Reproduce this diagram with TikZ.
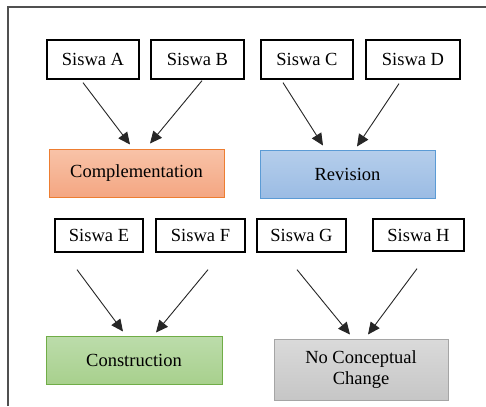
\documentclass[tikz,border=0pt]{standalone}
\usepackage{fontspec}
\setmainfont{Liberation Serif}
\newfontfamily\boxfont{Liberation Serif}
\usetikzlibrary{arrows.meta}

\definecolor{frameline}{HTML}{505050}
\definecolor{orangeline}{HTML}{ED7D31}
\definecolor{orangetop}{HTML}{F8C3A8}
\definecolor{orangebot}{HTML}{F4A682}
\definecolor{blueline}{HTML}{5B9BD5}
\definecolor{bluetop}{HTML}{B5CEEB}
\definecolor{bluebot}{HTML}{9BBCE4}
\definecolor{greenline}{HTML}{70AD47}
\definecolor{greentop}{HTML}{BCDCAB}
\definecolor{greenbot}{HTML}{A8D08D}
\definecolor{grayline}{HTML}{A5A5A5}
\definecolor{graytop}{HTML}{DADADA}
\definecolor{graybot}{HTML}{C6C6C6}

\tikzset{
  student/.style={draw=black, line width=1.3pt, fill=white, inner sep=0pt,
    font=\boxfont\fontsize{18.5}{21}\selectfont},
  outcome/.style={line width=1pt, inner sep=0pt, align=center,
    minimum width=175pt, minimum height=48pt,
    font=\boxfont\fontsize{18.5}{21}\selectfont},
  arr/.style={draw=black!85, line width=0.9pt,
    -{Triangle[length=12pt,width=11pt]}},
}

\begin{document}
\begin{tikzpicture}[x=1pt,y=-1pt]
  \useasboundingbox (0,0) rectangle (486,406);
  \fill[white] (0,0) rectangle (486,406);

  % outer frame (top and left edges)
  \draw[frameline, line width=1.6pt] (8,406) -- (8,7) -- (486,7);

  % first group of students
  \node[student, minimum width=92pt, minimum height=39pt] (sa) at (93,59.5) {Siswa A};
  \node[student, minimum width=93pt, minimum height=39pt] (sb) at (197.5,59.5) {Siswa B};
  \node[student, minimum width=92pt, minimum height=39pt] (sc) at (307,59.5) {Siswa C};
  \node[student, minimum width=94pt, minimum height=39pt] (sd) at (413,59.5) {Siswa D};

  % first outcomes
  \node[outcome, draw=orangeline, top color=orangetop, bottom color=orangebot]
    (comp) at (136.5,173) {Complementation};
  \node[outcome, draw=blueline, top color=bluetop, bottom color=bluebot]
    (rev) at (347.5,174) {Revision};

  % second group of students
  \node[student, minimum width=88pt, minimum height=33pt] (se) at (99,235.5) {Siswa E};
  \node[student, minimum width=89pt, minimum height=33pt] (sf) at (200.5,235.5) {Siswa F};
  \node[student, minimum width=89pt, minimum height=33pt] (sg) at (301.5,235.5) {Siswa G};
  \node[student, minimum width=91pt, minimum height=32pt] (sh) at (418.5,235) {Siswa H};

  % second outcomes
  \node[outcome, draw=greenline, top color=greentop, bottom color=greenbot,
    minimum width=176pt] (cons) at (134,360) {Construction};
  \node[outcome, draw=grayline, top color=graytop, bottom color=graybot,
    minimum width=174pt, minimum height=61pt] (ncc) at (361,369.5)
    {No Conceptual\\Change};

  % connectors
  \draw[arr] ([shift={(-10,3)}]sa.south) -- ([shift={(-6.5,-4)}]comp.north);
  \draw[arr] ([shift={(4.5,1)}]sb.south) -- ([shift={(13.5,-5)}]comp.north);
  \draw[arr] ([shift={(-24,3)}]sc.south) -- ([shift={(-24.5,-4)}]rev.north);
  \draw[arr] ([shift={(-14,4)}]sd.south) -- ([shift={(9.5,-3)}]rev.north);

  \draw[arr] ([shift={(-22,17)}]se.south) -- ([shift={(-11,-4)}]cons.north);
  \draw[arr] ([shift={(7.5,17)}]sf.south) -- ([shift={(22,-3)}]cons.north);
  \draw[arr] ([shift={(-4.5,17)}]sg.south) -- ([shift={(-11,-4)}]ncc.north);
  \draw[arr] ([shift={(-1.5,17)}]sh.south) -- ([shift={(7,-4)}]ncc.north);
\end{tikzpicture}
\end{document}
